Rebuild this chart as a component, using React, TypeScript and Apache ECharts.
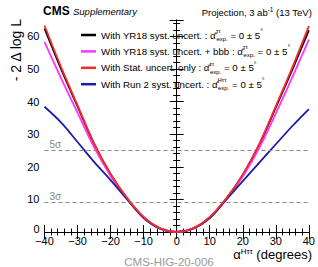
import React, { useEffect, useRef } from "react";
import * as echarts from "echarts";

// alpha^{Htautau} (degrees)
const alphaDeg = [-40, -35, -30, -25, -20, -15, -10, -5, 0, 5, 10, 15, 20, 25, 30, 35, 40];
// -2 Delta log L
const yr18 = [62.4, 50.0, 38.5, 27.0, 17.7, 10.3, 4.5, 1.1, 0, 1.1, 4.5, 10.2, 17.5, 26.8, 38.2, 49.8, 61.8];
const yr18bbb = [58.3, 47.2, 36.6, 26.0, 17.2, 10.1, 4.5, 1.1, 0, 1.1, 4.5, 10.0, 17.0, 25.8, 36.4, 47.5, 59.0];
const statOnly = [63.3, 50.6, 38.8, 27.2, 17.8, 10.4, 4.6, 1.1, 0, 1.1, 4.6, 10.3, 17.6, 27.0, 38.6, 50.5, 63.1];
const run2 = [38.4, 33.6, 27.6, 21.5, 15.9, 10.0, 4.3, 1.0, 0, 1.0, 4.2, 9.9, 15.6, 21.3, 26.9, 32.5, 37.7];

const seriesNames = [
  "With YR18 syst. uncert.",
  "With YR18 syst. uncert. + bbb",
  "With Stat. uncert. only",
  "With Run 2 syst. uncert.",
];
const seriesSup = ["ττ", "ττ", "ττ", "Hττ"];
const seriesColors = ["#000000", "#ff33ff", "#f52a2a", "#1c1ca8"];
const sigmaLevels = [25, 9];
const sigmaLabels = ["5σ", "3σ"];

const FONT = "'Liberation Sans', Arial, Helvetica, sans-serif";

function pairs(ys: number[]) {
  return alphaDeg.map((x, i) => [x, ys[i]]);
}

export default function App() {
  const ref = useRef<HTMLDivElement>(null);
  useEffect(() => {
    if (!ref.current) return;
    const chart = echarts.init(ref.current, undefined, { renderer: "svg" });
    const axisCommon = {
      axisLine: { show: true, lineStyle: { color: "#000", width: 1 } },
      axisTick: { show: true, inside: true, length: 7, lineStyle: { color: "#000", width: 1 } },
      minorTick: { show: true, splitNumber: 5, length: 3.5, lineStyle: { color: "#000", width: 1 } },
      splitLine: { show: false },
      minorSplitLine: { show: false },
    };
    const valuesList = [yr18, yr18bbb, statOnly, run2];
    const drawOrder = [0, 1, 3, 2];
    chart.setOption({
      animation: false,
      backgroundColor: "#ffffff",
      textStyle: { fontFamily: FONT },
      grid: { left: 44.5, right: 6, top: 20, bottom: 35, containLabel: false },
      legend: {
        show: true,
        orient: "vertical",
        left: 76,
        top: 23,
        itemWidth: 15,
        itemHeight: 2.5,
        itemGap: 2.4,
        itemTextGap: 5,
        icon: "rect",
        data: seriesNames,
        formatter: (name: string) => {
          const i = seriesNames.indexOf(name);
          return (
            "{n|" + name + " : α̂}{sup|" + seriesSup[i] + "}{sub|exp.}{n| = 0 ± 5}{deg|°}"
          );
        },
        textStyle: {
          fontFamily: FONT,
          color: "#000",
          rich: {
            n: { fontSize: 9.7, fontFamily: FONT, color: "#000", lineHeight: 14 },
            sup: { fontSize: 6, fontFamily: FONT, color: "#000", verticalAlign: "top", lineHeight: 6, width: 0.5 },
            sub: { fontSize: 6, fontFamily: FONT, color: "#000", verticalAlign: "bottom", lineHeight: 7 },
            deg: { fontSize: 7, fontFamily: FONT, color: "#000", verticalAlign: "top", lineHeight: 6 },
          },
        },
      },
      xAxis: [
        {
          type: "value",
          min: -40,
          max: 40,
          interval: 10,
          position: "bottom",
          ...axisCommon,
          axisLabel: {
            show: true,
            margin: 3,
            fontSize: 11,
            fontFamily: FONT,
            color: "#000",
            formatter: (v: number) => (v < 0 ? "−" + Math.abs(v) : String(v)),
          },
        },
        {
          type: "value",
          min: -40,
          max: 40,
          interval: 10,
          position: "top",
          ...axisCommon,
          axisLabel: { show: false },
        },
      ],
      yAxis: [
        {
          type: "value",
          min: 0,
          max: 65,
          interval: 10,
          position: "left",
          ...axisCommon,
          axisLabel: {
            show: true,
            margin: 5,
            fontSize: 11,
            fontFamily: FONT,
            color: "#000",
            showMaxLabel: false,
            formatter: (v: number) => (v === 0 ? "{z|0}" : String(v)),
            rich: { z: { fontSize: 11, fontFamily: FONT, color: "#000", padding: [0, 0, 7, 0] } },
          },
        },
        {
          type: "value",
          min: 0,
          max: 65,
          interval: 10,
          position: "right",
          ...axisCommon,
          axisLabel: { show: false },
        },
      ],
      series: drawOrder.map((i, k) => ({
        type: "line",
        name: seriesNames[i],
        data: pairs(valuesList[i]),
        xAxisIndex: 0,
        yAxisIndex: 0,
        showSymbol: false,
        smooth: 0.35,
        z: 2 + k,
        color: seriesColors[i],
        lineStyle: { color: seriesColors[i], width: 1.8 },
        markLine:
          k === 0
            ? {
                silent: true,
                symbol: "none",
                lineStyle: { color: "#888", type: [4, 3], width: 1 },
                label: {
                  show: true,
                  position: "insideStartTop",
                  distance: [5, 1],
                  color: "#888",
                  fontSize: 10,
                  fontFamily: FONT,
                },
                data: sigmaLevels.map((v, j) => ({
                  yAxis: v,
                  label: { formatter: sigmaLabels[j] },
                })),
              }
            : undefined,
      })),
      graphic: [
        {
          type: "text",
          left: 43,
          top: 5,
          style: {
            text: "{b|CMS} {i|Supplementary}",
            rich: {
              b: { fontSize: 12, fontWeight: "bold", fontFamily: FONT, fill: "#000" },
              i: { fontSize: 9.5, fontStyle: "italic", fontFamily: FONT, fill: "#000" },
            },
          },
        },
        {
          type: "text",
          right: 6,
          top: 6,
          style: {
            text: "{n|Projection, 3 ab}{s|-1}{n| (13 TeV)}",
            rich: {
              n: { fontSize: 9.5, fontFamily: FONT, fill: "#000", lineHeight: 12 },
              s: { fontSize: 6.5, fontFamily: FONT, fill: "#000", verticalAlign: "top", lineHeight: 7 },
            },
          },
        },
        {
          type: "text",
          x: 16,
          y: 19,
          rotation: Math.PI / 2,
          style: {
            text: "- 2 Δ log L",
            fontSize: 14,
            fontFamily: FONT,
            fill: "#000",
            align: "right",
            verticalAlign: "middle",
          },
        },
        {
          type: "text",
          right: 6,
          top: 247,
          style: {
            text: "{n|α}{s|Hττ}{n| (degrees)}",
            rich: {
              n: { fontSize: 13, fontFamily: FONT, fill: "#000", lineHeight: 15 },
              s: { fontSize: 8, fontFamily: FONT, fill: "#000", verticalAlign: "top", lineHeight: 9 },
            },
          },
        },
        {
          type: "text",
          x: 169,
          y: 262,
          style: {
            text: "CMS-HIG-20-006",
            fontSize: 11.5,
            fontFamily: FONT,
            fill: "#9a9a9a",
            align: "center",
            verticalAlign: "middle",
          },
        },
      ],
    });
    return () => chart.dispose();
  }, []);
  return (
    <div
      ref={ref}
      style={{ position: "fixed", left: 0, top: 0, width: 318, height: 267, background: "#fff" }}
    />
  );
}
